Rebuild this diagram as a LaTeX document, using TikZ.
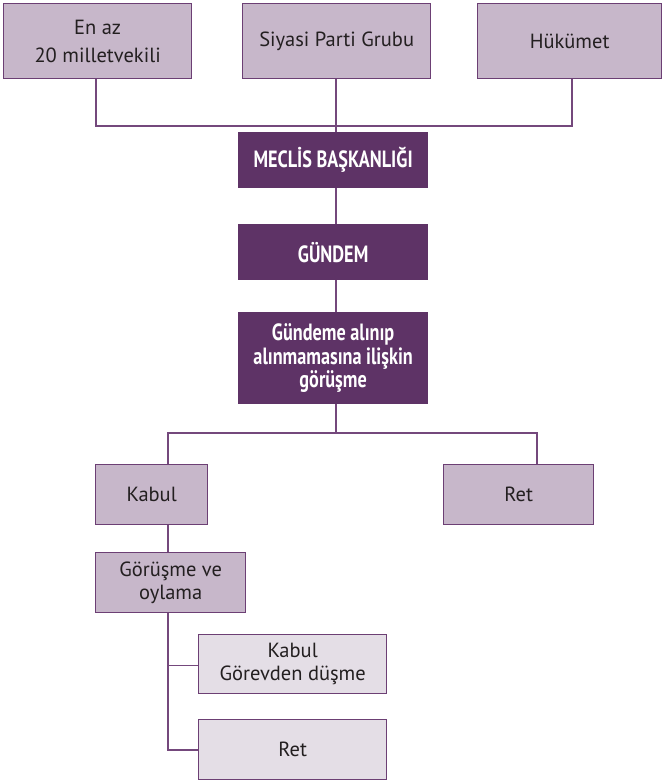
\documentclass[tikz,border=0pt]{standalone}
\usepackage{fontspec}
\setmainfont{PT Sans}
\newfontfamily\cbold[FakeStretch=0.775]{PT Sans}
\definecolor{darkp}{HTML}{5E3366}
\definecolor{lightp}{HTML}{C7B7CA}
\definecolor{palep}{HTML}{E4DEE6}
\definecolor{edgep}{HTML}{6C3F74}
\definecolor{linep}{HTML}{74487C}
\definecolor{txt}{HTML}{231F20}
\tikzset{
  basebox/.style={anchor=north west, inner sep=2pt, align=center, line width=1.3pt},
  lbox/.style={basebox, draw=edgep, fill=lightp, text=txt, font=\fontsize{20.5}{23.5}\selectfont},
  pbox/.style={basebox, draw=edgep, fill=palep, text=txt, font=\fontsize{20.5}{23}\selectfont},
  dbox/.style={basebox, draw=darkp, fill=darkp, text=white, font=\cbold\bfseries\fontsize{23.5}{23.5}\selectfont},
  conn/.style={draw=linep, line width=1.3pt}
}
\begin{document}
\begin{tikzpicture}[x=1pt,y=-1pt]
\useasboundingbox (0,0) rectangle (663,784);
% top row
\node[lbox, minimum width=188pt, minimum height=75pt, font=\fontsize{20.5}{28}\selectfont] (A) at (3,3) {En az\\20 milletvekili};
\node[lbox, minimum width=188pt, minimum height=75pt] (B) at (242,3) {Siyasi Parti Grubu};
\node[lbox, minimum width=184pt, minimum height=75pt] (C) at (477,3) {Hükümet};
% dark column
\node[dbox, minimum width=189pt, minimum height=55pt] (M) at (238,132) {MECLİS BAŞKANLIĞI};
\node[dbox, minimum width=189pt, minimum height=55pt] (G) at (238,224) {GÜNDEM};
\node[dbox, minimum width=189pt, minimum height=91pt] (D) at (238,312) {Gündeme alınıp\\alınmamasına ilişkin\\görüşme};
% second level
\node[lbox, minimum width=112pt, minimum height=60pt] (K) at (95,464) {Kabul};
\node[lbox, minimum width=150pt, minimum height=60pt] (R) at (443,464) {Ret};
\node[lbox, minimum width=150pt, minimum height=60pt] (O) at (95,552) {Görüşme ve\\oylama};
% third level
\node[pbox, minimum width=188pt, minimum height=59pt] (K2) at (198,634) {Kabul\\Görevden düşme};
\node[pbox, minimum width=188pt, minimum height=60pt] (R2) at (198,719) {Ret};
% coordinates
\coordinate (jt) at (336,126);
\coordinate (ax) at (96,126);
\coordinate (cx) at (572,126);
\coordinate (jl) at (168,433);
\coordinate (jr) at (537,433);
\coordinate (jm) at (336,433);
\coordinate (v1) at (168,665.5);
\coordinate (v2) at (168,750);
% connectors
\draw[conn] (A.south -| ax) -- (ax) -- (cx) -- (C.south -| cx);
\draw[conn] (B.south -| jt) -- (M.north -| jt);
\draw[conn] (M.south -| jt) -- (G.north -| jt);
\draw[conn] (G.south -| jt) -- (D.north -| jt);
\draw[conn] (D.south -| jm) -- (jm);
\draw[conn] (K.north -| jl) -- (jl) -- (jr) -- (R.north -| jr);
\draw[conn] (K.south -| jl) -- (O.north -| jl);
\draw[conn] (O.south -| jl) -- (v2) -- (R2.west |- v2);
\draw[conn] (v1) -- (K2.west |- v1);
\end{tikzpicture}
\end{document}
